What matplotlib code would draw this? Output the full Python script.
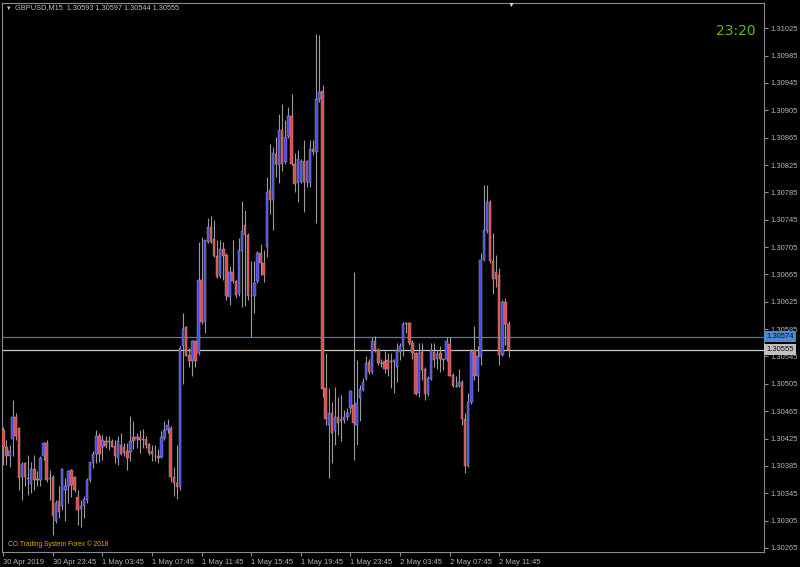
import matplotlib.pyplot as plt
import numpy as np

plt.rcParams['font.family'] = ['Liberation Sans', 'DejaVu Sans']

symbol = 'GBPUSD,M15'

# M15 bars, 30 Apr 2019 19:45 -> 2 May 2019 12:30
opens = [1.30438, 1.30412, 1.30399, 1.30425, 1.30456, 1.30440, 1.30368, 1.30389, 1.30367, 1.30359,
         1.30380, 1.30366, 1.30364, 1.30399, 1.30418, 1.30366, 1.30368, 1.30304, 1.30333, 1.30326,
         1.30350, 1.30355, 1.30379, 1.30368, 1.30340, 1.30322, 1.30326, 1.30335, 1.30364, 1.30389,
         1.30403, 1.30428, 1.30413, 1.30422, 1.30420, 1.30422, 1.30414, 1.30396, 1.30416, 1.30413,
         1.30406, 1.30405, 1.30427, 1.30424, 1.30427, 1.30424, 1.30424, 1.30417, 1.30406, 1.30400,
         1.30400, 1.30398, 1.30426, 1.30438, 1.30440, 1.30369, 1.30360, 1.30354, 1.30561, 1.30588,
         1.30547, 1.30538, 1.30568, 1.30550, 1.30657, 1.30595, 1.30713, 1.30734, 1.30717, 1.30692,
         1.30662, 1.30702, 1.30694, 1.30632, 1.30668, 1.30656, 1.30637, 1.30699, 1.30737, 1.30723,
         1.30634, 1.30633, 1.30655, 1.30697, 1.30681, 1.30705, 1.30788, 1.30774, 1.30841, 1.30825,
         1.30876, 1.30830, 1.30867, 1.30896, 1.30827, 1.30798, 1.30800, 1.30831, 1.30800, 1.30798,
         1.30848, 1.30844, 1.30922, 1.30933, 1.30499, 1.30445, 1.30462, 1.30436, 1.30456, 1.30450,
         1.30452, 1.30457, 1.30469, 1.30474, 1.30445, 1.30484, 1.30496, 1.30513, 1.30537, 1.30523,
         1.30567, 1.30554, 1.30535, 1.30538, 1.30540, 1.30538, 1.30537, 1.30529, 1.30552, 1.30560,
         1.30594, 1.30594, 1.30565, 1.30550, 1.30491, 1.30551, 1.30526, 1.30490, 1.30512, 1.30552,
         1.30541, 1.30550, 1.30541, 1.30541, 1.30563, 1.30518, 1.30502, 1.30502, 1.30507, 1.30453,
         1.30385, 1.30478, 1.30555, 1.30516, 1.30544, 1.30686, 1.30728, 1.30771, 1.30684, 1.30668,
         1.30664, 1.30547, 1.30625, 1.30593]
highs = [1.30442, 1.30423, 1.30416, 1.30482, 1.30462, 1.30442, 1.30391, 1.30391, 1.30401, 1.30391,
         1.30401, 1.30377, 1.30399, 1.30420, 1.30423, 1.30379, 1.30372, 1.30335, 1.30355, 1.30382,
         1.30367, 1.30379, 1.30380, 1.30370, 1.30350, 1.30335, 1.30341, 1.30367, 1.30391, 1.30406,
         1.30438, 1.30433, 1.30430, 1.30429, 1.30428, 1.30424, 1.30423, 1.30428, 1.30433, 1.30418,
         1.30418, 1.30458, 1.30450, 1.30433, 1.30438, 1.30439, 1.30428, 1.30419, 1.30416, 1.30416,
         1.30409, 1.30436, 1.30450, 1.30453, 1.30443, 1.30384, 1.30416, 1.30560, 1.30608, 1.30590,
         1.30557, 1.30569, 1.30569, 1.30713, 1.30720, 1.30716, 1.30747, 1.30751, 1.30744, 1.30716,
         1.30715, 1.30712, 1.30696, 1.30677, 1.30715, 1.30657, 1.30718, 1.30772, 1.30759, 1.30725,
         1.30684, 1.30684, 1.30699, 1.30710, 1.30701, 1.30808, 1.30856, 1.30852, 1.30866, 1.30900,
         1.30915, 1.30891, 1.30910, 1.30929, 1.30842, 1.30847, 1.30834, 1.30861, 1.30832, 1.30861,
         1.30861, 1.31016, 1.31015, 1.30942, 1.30550, 1.30499, 1.30479, 1.30500, 1.30486, 1.30488,
         1.30467, 1.30469, 1.30496, 1.30669, 1.30540, 1.30503, 1.30513, 1.30545, 1.30542, 1.30574,
         1.30575, 1.30557, 1.30542, 1.30553, 1.30550, 1.30550, 1.30542, 1.30565, 1.30565, 1.30596,
         1.30596, 1.30596, 1.30569, 1.30551, 1.30564, 1.30564, 1.30530, 1.30516, 1.30564, 1.30564,
         1.30555, 1.30560, 1.30542, 1.30574, 1.30574, 1.30521, 1.30516, 1.30526, 1.30511, 1.30462,
         1.30491, 1.30556, 1.30589, 1.30560, 1.30696, 1.30796, 1.30796, 1.30774, 1.30725, 1.30693,
         1.30674, 1.30628, 1.30630, 1.30597]
lows = [1.30386, 1.30386, 1.30384, 1.30399, 1.30423, 1.30350, 1.30335, 1.30355, 1.30343, 1.30345,
        1.30350, 1.30355, 1.30355, 1.30394, 1.30362, 1.30335, 1.30284, 1.30301, 1.30309, 1.30321,
        1.30304, 1.30330, 1.30340, 1.30347, 1.30299, 1.30296, 1.30309, 1.30330, 1.30362, 1.30382,
        1.30389, 1.30391, 1.30394, 1.30411, 1.30408, 1.30412, 1.30389, 1.30386, 1.30401, 1.30399,
        1.30379, 1.30392, 1.30409, 1.30411, 1.30404, 1.30411, 1.30411, 1.30401, 1.30392, 1.30392,
        1.30389, 1.30397, 1.30423, 1.30433, 1.30362, 1.30341, 1.30336, 1.30350, 1.30504, 1.30545,
        1.30530, 1.30516, 1.30530, 1.30547, 1.30593, 1.30579, 1.30711, 1.30711, 1.30691, 1.30660,
        1.30660, 1.30657, 1.30628, 1.30621, 1.30653, 1.30630, 1.30633, 1.30618, 1.30619, 1.30628,
        1.30573, 1.30608, 1.30652, 1.30664, 1.30654, 1.30690, 1.30754, 1.30730, 1.30808, 1.30798,
        1.30817, 1.30827, 1.30864, 1.30825, 1.30786, 1.30771, 1.30798, 1.30757, 1.30793, 1.30793,
        1.30840, 1.30740, 1.30917, 1.30486, 1.30445, 1.30367, 1.30389, 1.30416, 1.30430, 1.30421,
        1.30447, 1.30452, 1.30462, 1.30394, 1.30416, 1.30450, 1.30494, 1.30511, 1.30520, 1.30520,
        1.30552, 1.30533, 1.30530, 1.30521, 1.30516, 1.30499, 1.30491, 1.30508, 1.30540, 1.30545,
        1.30579, 1.30562, 1.30542, 1.30489, 1.30486, 1.30511, 1.30482, 1.30487, 1.30511, 1.30530,
        1.30526, 1.30523, 1.30525, 1.30538, 1.30516, 1.30501, 1.30500, 1.30501, 1.30445, 1.30375,
        1.30383, 1.30476, 1.30511, 1.30494, 1.30533, 1.30684, 1.30725, 1.30681, 1.30637, 1.30647,
        1.30533, 1.30545, 1.30562, 1.30544]
closes = [1.30413, 1.30399, 1.30406, 1.30457, 1.30428, 1.30367, 1.30388, 1.30369, 1.30366, 1.30380,
          1.30365, 1.30365, 1.30396, 1.30418, 1.30364, 1.30367, 1.30311, 1.30330, 1.30318, 1.30380,
          1.30355, 1.30378, 1.30357, 1.30350, 1.30321, 1.30326, 1.30337, 1.30364, 1.30390, 1.30403,
          1.30429, 1.30403, 1.30423, 1.30414, 1.30421, 1.30413, 1.30399, 1.30422, 1.30403, 1.30404,
          1.30396, 1.30422, 1.30422, 1.30427, 1.30423, 1.30423, 1.30416, 1.30404, 1.30403, 1.30399,
          1.30397, 1.30427, 1.30438, 1.30445, 1.30369, 1.30360, 1.30354, 1.30557, 1.30585, 1.30546,
          1.30538, 1.30568, 1.30539, 1.30657, 1.30595, 1.30715, 1.30734, 1.30713, 1.30692, 1.30661,
          1.30702, 1.30692, 1.30633, 1.30668, 1.30655, 1.30635, 1.30700, 1.30728, 1.30723, 1.30633,
          1.30633, 1.30653, 1.30696, 1.30681, 1.30664, 1.30786, 1.30774, 1.30842, 1.30826, 1.30876,
          1.30827, 1.30866, 1.30896, 1.30827, 1.30797, 1.30834, 1.30831, 1.30800, 1.30831, 1.30848,
          1.30844, 1.30922, 1.30932, 1.30498, 1.30453, 1.30462, 1.30433, 1.30457, 1.30448, 1.30453,
          1.30457, 1.30462, 1.30494, 1.30447, 1.30477, 1.30498, 1.30508, 1.30535, 1.30523, 1.30567,
          1.30554, 1.30535, 1.30535, 1.30527, 1.30526, 1.30537, 1.30540, 1.30554, 1.30560, 1.30593,
          1.30593, 1.30565, 1.30550, 1.30490, 1.30550, 1.30525, 1.30490, 1.30513, 1.30554, 1.30540,
          1.30549, 1.30541, 1.30540, 1.30567, 1.30517, 1.30502, 1.30502, 1.30508, 1.30453, 1.30385,
          1.30479, 1.30551, 1.30516, 1.30545, 1.30686, 1.30730, 1.30771, 1.30684, 1.30659, 1.30659,
          1.30547, 1.30625, 1.30593, 1.30555]

time_ticks = [0, 16, 32, 48, 64, 80, 96, 112, 128, 144, 160]
time_labels = ['30 Apr 2019', '30 Apr 23:45', '1 May 03:45', '1 May 07:45', '1 May 11:45',
               '1 May 15:45', '1 May 19:45', '1 May 23:45', '2 May 03:45', '2 May 07:45',
               '2 May 11:45']
price_labels = ['1.30265', '1.30305', '1.30345', '1.30385', '1.30425', '1.30465', '1.30505',
                '1.30545', '1.30585', '1.30625', '1.30665', '1.30705', '1.30745', '1.30785',
                '1.30825', '1.30865', '1.30905', '1.30945', '1.30985', '1.31025']
level_line = 1.30574

opens = np.array(opens)
highs = np.array(highs)
lows = np.array(lows)
closes = np.array(closes)
x = np.arange(len(closes))

fig = plt.figure(figsize=(8, 5.67), dpi=100, facecolor='black')
ax = fig.add_axes([2/800, 15/567, 762/800, 549/567])
ax.set_facecolor('black')

wick_col = '#9a9a9a'
ax.vlines(x, lows, highs, color=wick_col, lw=0.8, zorder=2)

up = closes > opens
down = closes < opens
flat = closes == opens
ax.bar(x[up], closes[up] - opens[up], bottom=opens[up], width=0.78,
       color='#4848f0', edgecolor='#a8a8a8', lw=0.3, zorder=3)
ax.bar(x[down], opens[down] - closes[down], bottom=closes[down], width=0.78,
       color='#e04a4a', edgecolor='#a8a8a8', lw=0.3, zorder=3)
ax.hlines(closes[flat], x[flat] - 0.4, x[flat] + 0.4, color='#a8a8a8', lw=0.8, zorder=3)

# ask / last price lines
ax.axhline(level_line, color='#3c7cc0', lw=0.9, zorder=1)
ax.axhline(closes[-1], color='#c8c8c8', lw=0.9, zorder=1)

ax.set_xlim(-0.42, 245.4)
ax.set_ylim(1.30259, 1.31062)

ax.yaxis.tick_right()
ax.set_yticks([float(p) for p in price_labels])
ax.set_yticklabels(price_labels)
ax.set_xticks(time_ticks)
ax.set_xticklabels(time_labels)
for lab in ax.get_xticklabels():
    lab.set_ha('left')
ax.tick_params(axis='both', colors='#8c8c8c', labelcolor='#b4b4b4', labelsize=5.5,
               length=3, width=0.8, direction='out')
ax.tick_params(axis='y', pad=1.5)
ax.tick_params(axis='x', pad=2)
for s in ax.spines.values():
    s.set_color('#8c8c8c')
    s.set_linewidth(0.8)

# price tags on the right scale
tr = ax.get_yaxis_transform()
ax.text(1.003, level_line, f'{level_line:.5f}', transform=tr, va='center', ha='left',
        fontsize=5.5, color='#0c0c0c', clip_on=False,
        bbox=dict(facecolor='#4a8ad0', edgecolor='none', boxstyle='square,pad=0.25'))
ax.text(1.003, closes[-1], f'{closes[-1]:.5f}', transform=tr, va='center', ha='left',
        fontsize=5.5, color='#0c0c0c', clip_on=False,
        bbox=dict(facecolor='#c0c0c0', edgecolor='none', boxstyle='square,pad=0.25'))

title = f'{symbol}  {opens[-1]:.5f} {highs[-1]:.5f} {lows[-1]:.5f} {closes[-1]:.5f}'
fig.text(6/800, 1 - 8/567, '▼', color='#d0d0d0', fontsize=4, va='center')
fig.text(15/800, 1 - 8/567, title, color='#bcbcbc', fontsize=5.3, va='center')
fig.text(511/800, 1 - 5/567, '▼', color='#d8d8d8', fontsize=5, va='center', ha='center')
fig.text(756/800, 1 - 31/567, '23:20', color='#5cbf00', fontsize=10, va='center', ha='right',
         family='DejaVu Sans')
fig.text(8/800, 1 - 544/567, 'CO.Trading System Forex © 2018', color='#e0b000', fontsize=4.8,
         va='center')

fig.savefig('out.png', dpi=100, facecolor='black')
